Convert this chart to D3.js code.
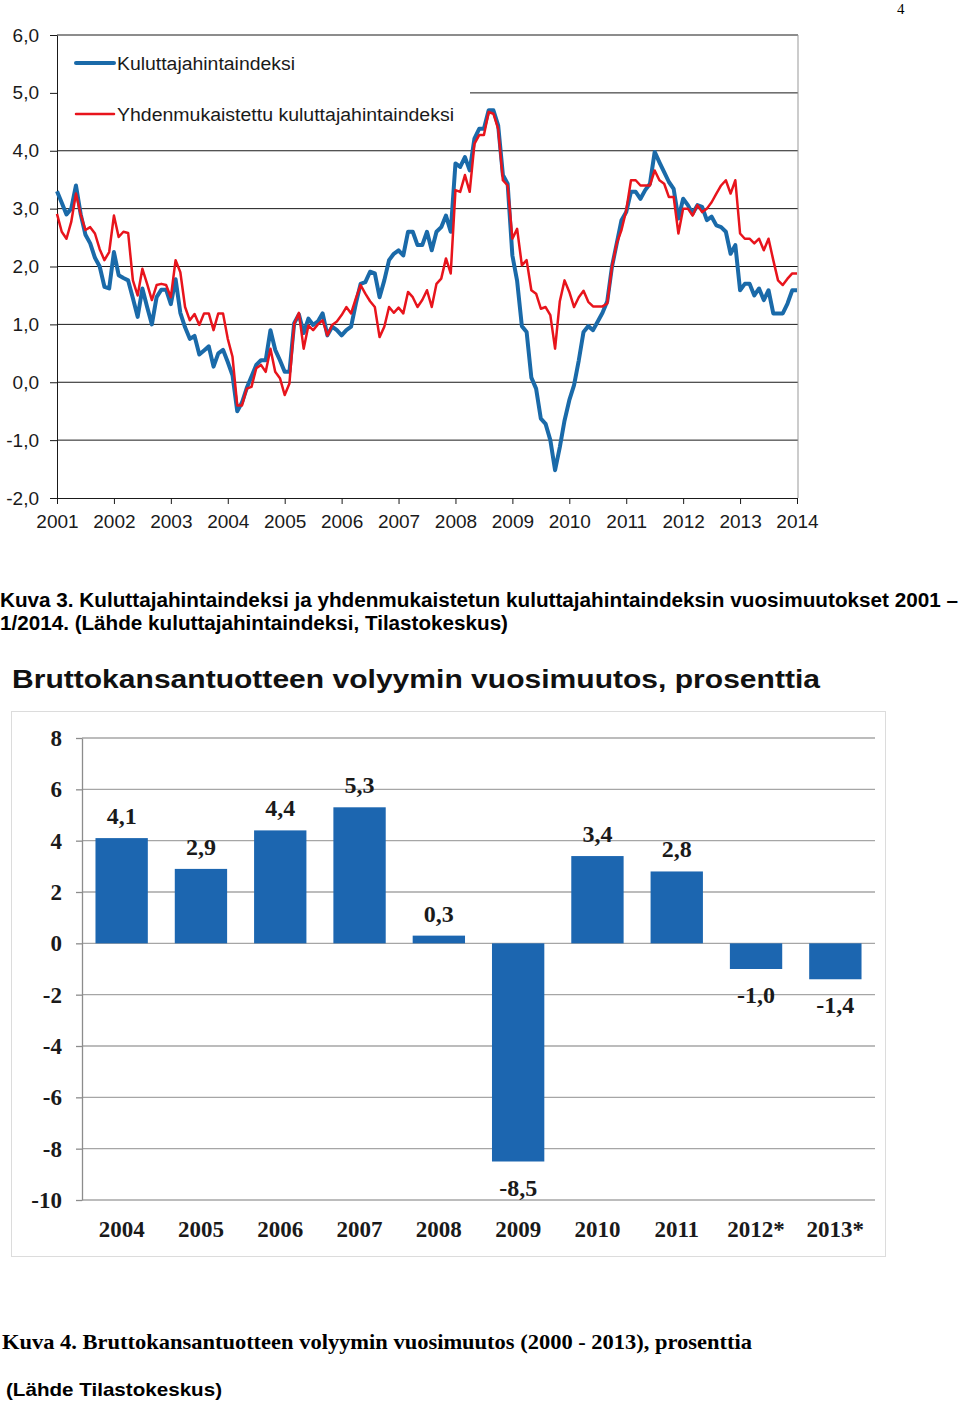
<!DOCTYPE html>
<html><head><meta charset="utf-8">
<script src="https://cdn.jsdelivr.net/npm/d3@7"></script>
<style>body{margin:0;background:#fff} svg{display:block}</style>
</head><body>
<svg id="c" width="960" height="1404"></svg>
<script>
// ---------- DATA ----------
const years = [2001,2002,2003,2004,2005,2006,2007,2008,2009,2010,2011,2012,2013,2014];
// Monthly annual change, Jan 2001 .. Jan 2014
const cpi = [
 3.3,3.1,2.9,3.0,3.4,2.9,2.55,2.4,2.15,2.0,
 1.65,1.62,2.25,1.85,1.8,1.76,1.45,1.13,1.62,1.3,
 1.0,1.47,1.6,1.6,1.35,1.78,1.2,0.95,0.75,0.8,
 0.48,0.55,0.62,0.27,0.5,0.56,0.35,0.12,-0.5,-0.35,
 -0.1,0.1,0.3,0.38,0.38,0.9,0.56,0.38,0.18,0.18,
 1.02,1.17,0.85,1.1,0.99,1.05,1.19,0.81,0.96,0.9,
 0.81,0.9,0.96,1.36,1.7,1.73,1.91,1.88,1.47,1.76,
 2.11,2.22,2.28,2.19,2.6,2.6,2.37,2.37,2.6,2.28,
 2.6,2.68,2.88,2.6,3.78,3.72,3.89,3.66,4.21,4.38,
 4.38,4.7,4.7,4.44,3.58,3.43,2.19,1.75,0.97,0.87,
 0.08,-0.11,-0.63,-0.72,-1.0,-1.52,-1.12,-0.66,-0.31,-0.05,
 0.38,0.87,0.97,0.9,1.05,1.2,1.4,2.0,2.4,2.8,
 2.94,3.29,3.29,3.17,3.32,3.43,3.98,3.8,3.63,3.46,
 3.34,2.83,3.17,3.06,2.91,3.06,3.03,2.8,2.86,2.71,
 2.68,2.6,2.22,2.37,1.59,1.7,1.7,1.5,1.62,1.42,
 1.59,1.19,1.19,1.19,1.36,1.59,1.59
];
const hicp = [
 2.91,2.6,2.48,2.77,3.26,2.9,2.63,2.68,2.57,2.3,
 2.11,2.25,2.88,2.51,2.6,2.58,1.76,1.5,1.96,1.7,
 1.42,1.68,1.7,1.68,1.47,2.11,1.9,1.3,1.07,1.18,
 0.99,1.19,1.19,0.9,1.19,1.19,0.75,0.44,-0.4,-0.4,
 -0.11,-0.08,0.24,0.3,0.18,0.58,0.18,0.07,-0.22,-0.02,
 1.01,1.2,0.58,0.98,0.9,1.0,1.07,0.81,0.99,1.05,
 1.16,1.3,1.19,1.45,1.68,1.53,1.4,1.3,0.78,0.96,
 1.3,1.2,1.29,1.19,1.56,1.47,1.3,1.42,1.59,1.3,
 1.7,1.79,2.14,1.88,3.32,3.29,3.58,3.29,4.12,4.27,
 4.27,4.67,4.64,4.38,3.49,3.4,2.48,2.65,2.02,2.11,
 1.59,1.53,1.27,1.3,1.16,0.58,1.4,1.76,1.56,1.3,
 1.47,1.58,1.39,1.31,1.31,1.31,1.36,2.0,2.4,2.63,
 2.97,3.49,3.49,3.4,3.4,3.4,3.66,3.49,3.43,3.2,
 3.2,2.57,3.0,3.0,2.88,3.06,2.94,3.0,3.11,3.26,
 3.4,3.49,3.26,3.49,2.57,2.48,2.48,2.4,2.48,2.28,
 2.48,2.11,1.76,1.68,1.79,1.88,1.88
];
const seriesNames = ["Kuluttajahintaindeksi","Yhdenmukaistettu kuluttajahintaindeksi"];
const lineTicks = [-2,-1,0,1,2,3,4,5,6];

const gdpYears = ["2004","2005","2006","2007","2008","2009","2010","2011","2012*","2013*"];
const gdpValues = [4.1,2.9,4.4,5.3,0.3,-8.5,3.4,2.8,-1.0,-1.4];
const barTicks = [8,6,4,2,0,-2,-4,-6,-8,-10];

// ---------- TOP CHART ----------
const svg = d3.select("#c");
const fmt1 = d => d.toFixed(1).replace(".", ",");
const BLUE = "#1a6aa9", RED = "#e8141c";

svg.append("text").attr("x",897).attr("y",14).attr("font-family","Liberation Serif")
  .attr("font-size",15).text("4");

const x = d3.scaleLinear().domain([0,156]).range([57,797]);
const y = d3.scaleLinear().domain([-2,6]).range([498,35]);
const topG = svg.append("g");

topG.append("g").selectAll("line").data(lineTicks.filter(t=>t>-2)).join("line")
  .attr("x1",57).attr("x2",798).attr("y1",d=>y(d)).attr("y2",d=>y(d))
  .attr("stroke","#1a1a1a").attr("stroke-width",1);
topG.append("line").attr("x1",798).attr("x2",798).attr("y1",y(6)).attr("y2",y(-2))
  .attr("stroke","#999").attr("stroke-width",1);

const yAx = topG.append("g").attr("transform","translate(57,0)")
  .call(d3.axisLeft(y).tickValues(lineTicks).tickSize(7).tickSizeOuter(0).tickPadding(11).tickFormat(fmt1));
const xAx = topG.append("g").attr("transform","translate(0,498)")
  .call(d3.axisBottom(x).tickValues(years.map((d,i)=>i*12)).tickSize(6).tickSizeOuter(0).tickPadding(11)
    .tickFormat((d,i)=>years[i]));
[yAx,xAx].forEach(a=>{
  a.selectAll("path,line").attr("stroke","#1a1a1a");
  a.selectAll("text").attr("font-family","Liberation Sans").attr("font-size",19).attr("fill","#1a1a1a");
});
xAx.select("path").attr("d","M57,0.5H798");

// legend box covering gridline
topG.append("rect").attr("x",58).attr("y",40).attr("width",412).attr("height",88).attr("fill","#fff");

const line = d3.line().x((d,i)=>x(i)).y(d=>y(d));
topG.append("path").datum(cpi).attr("d",line).attr("fill","none").attr("stroke",BLUE)
  .attr("stroke-width",4).attr("stroke-linejoin","round");
topG.append("path").datum(hicp).attr("d",line).attr("fill","none").attr("stroke",RED)
  .attr("stroke-width",2.5).attr("stroke-linejoin","round");

// legend
const leg = [{n:seriesNames[0],c:BLUE,w:4,y:63,len:178},{n:seriesNames[1],c:RED,w:2.5,y:114,len:337}];
leg.forEach(l=>{
  topG.append("line").attr("x1",76).attr("x2",114).attr("y1",l.y).attr("y2",l.y)
    .attr("stroke",l.c).attr("stroke-width",l.w).attr("stroke-linecap","round");
  topG.append("text").attr("x",117).attr("y",l.y+6.5).attr("font-family","Liberation Sans")
    .attr("font-size",18).attr("fill","#1a1a1a").attr("textLength",l.len)
    .attr("lengthAdjust","spacingAndGlyphs").text(l.n);
});

// caption 3
svg.append("text").attr("x",0).attr("y",607).attr("font-family","Liberation Sans").attr("font-weight","bold")
  .attr("font-size",20).attr("textLength",958).attr("lengthAdjust","spacingAndGlyphs")
  .text("Kuva 3. Kuluttajahintaindeksi ja yhdenmukaistetun kuluttajahintaindeksin vuosimuutokset 2001 –");
svg.append("text").attr("x",0).attr("y",630).attr("font-family","Liberation Sans").attr("font-weight","bold")
  .attr("font-size",20).attr("textLength",508).attr("lengthAdjust","spacingAndGlyphs")
  .text("1/2014. (Lähde kuluttajahintaindeksi, Tilastokeskus)");

// ---------- BOTTOM CHART ----------
svg.append("text").attr("x",12).attr("y",688).attr("font-family","Liberation Sans").attr("font-weight","bold")
  .attr("font-size",26).attr("fill","#111").attr("textLength",808).attr("lengthAdjust","spacingAndGlyphs")
  .text("Bruttokansantuotteen volyymin vuosimuutos, prosenttia");
svg.append("rect").attr("x",11.5).attr("y",711.5).attr("width",874).attr("height",545)
  .attr("fill","none").attr("stroke","#dcdcdc");

const xb = d3.scaleBand().domain(gdpYears).range([82,875]).paddingInner(0.34).paddingOuter(0.17);
const yb = d3.scaleLinear().domain([-10,8]).range([1200,738]);
const bot = svg.append("g");

bot.append("g").selectAll("line").data(barTicks).join("line")
  .attr("x1",82).attr("x2",875).attr("y1",d=>yb(d)).attr("y2",d=>yb(d))
  .attr("stroke","#a6a6a6").attr("stroke-width",1.3);

const yAxB = bot.append("g").attr("transform","translate(82,0)")
  .call(d3.axisLeft(yb).tickValues(barTicks).tickSize(6).tickSizeOuter(0).tickPadding(14).tickFormat(d=>d));
yAxB.selectAll("path,line").attr("stroke","#8c8c8c").attr("stroke-width",1.3);
yAxB.selectAll("text").attr("font-family","Liberation Serif").attr("font-weight","bold")
  .attr("font-size",23).attr("fill","#1a1a1a");

bot.append("g").selectAll("rect").data(gdpValues).join("rect")
  .attr("x",(d,i)=>xb(gdpYears[i])).attr("width",xb.bandwidth())
  .attr("y",d=>yb(Math.max(0,d))).attr("height",d=>Math.abs(yb(d)-yb(0)))
  .attr("fill","#1c66b0");

bot.append("g").selectAll("text").data(gdpValues).join("text")
  .attr("x",(d,i)=>xb(gdpYears[i])+xb.bandwidth()/2)
  .attr("y",d=> d>=0 ? yb(d)-14 : yb(d)+34)
  .attr("text-anchor","middle").attr("font-family","Liberation Serif").attr("font-weight","bold")
  .attr("font-size",24).attr("fill","#1a1a1a").text(fmt1);

bot.append("g").selectAll("text").data(gdpYears).join("text")
  .attr("x",d=>xb(d)+xb.bandwidth()/2).attr("y",1237)
  .attr("text-anchor","middle").attr("font-family","Liberation Serif").attr("font-weight","bold")
  .attr("font-size",23).attr("fill","#1a1a1a").text(d=>d);

// caption 4
svg.append("text").attr("x",2).attr("y",1349).attr("font-family","Liberation Serif").attr("font-weight","bold")
  .attr("font-size",21).attr("textLength",750).attr("lengthAdjust","spacingAndGlyphs")
  .text("Kuva 4. Bruttokansantuotteen volyymin vuosimuutos (2000 - 2013), prosenttia");
svg.append("text").attr("x",6).attr("y",1396).attr("font-family","Liberation Sans").attr("font-weight","bold")
  .attr("font-size",19).attr("textLength",216).attr("lengthAdjust","spacingAndGlyphs")
  .text("(Lähde Tilastokeskus)");
</script>
</body></html>
